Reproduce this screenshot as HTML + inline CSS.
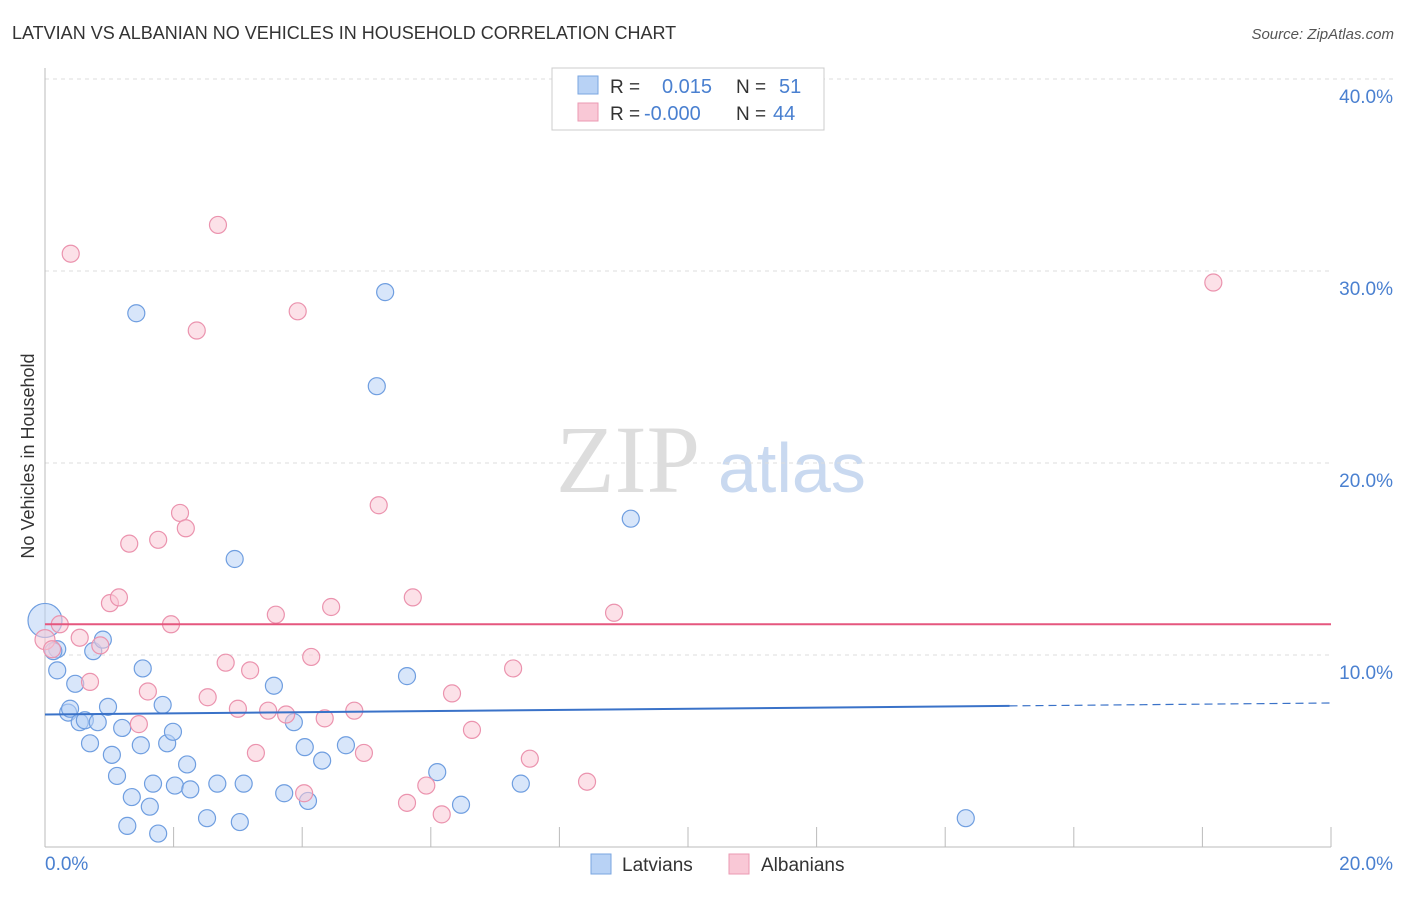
<!DOCTYPE html>
<html><head><meta charset="utf-8"><style>
body{margin:0;background:#fff;font-family:"Liberation Sans",sans-serif}
</style></head><body>
<svg width="1406" height="892" xmlns="http://www.w3.org/2000/svg" font-family="Liberation Sans, sans-serif">
<text x="12" y="39" font-size="18" fill="#333">LATVIAN VS ALBANIAN NO VEHICLES IN HOUSEHOLD CORRELATION CHART</text>
<text x="1394" y="39" font-size="15" fill="#555" font-style="italic" text-anchor="end">Source: ZipAtlas.com</text>
<text transform="translate(34,456) rotate(-90)" font-size="18" fill="#333" text-anchor="middle">No Vehicles in Household</text>
<text x="556" y="492" font-size="96" fill="#ddd" font-family="Liberation Serif, serif">ZIP</text>
<text x="718" y="492" font-size="70" fill="#c9d9f0">atlas</text>
<g id="grid"></g>
<g id="axes"></g>
<g id="marks"></g>
<g>
<rect x="552" y="68" width="272" height="62" fill="#fff" stroke="#ccc"/>
<rect x="578" y="76" width="20" height="18" fill="#b8d2f5" stroke="#7aa6e0"/>
<rect x="578" y="103" width="20" height="18" fill="#f9c8d6" stroke="#eb9ab3"/>
<text x="610" y="93" font-size="19" fill="#333">R =</text><text x="662" y="93" font-size="20" fill="#4a80d0">0.015</text>
<text x="736" y="93" font-size="19" fill="#333">N =</text><text x="779" y="93" font-size="20" fill="#4a80d0">51</text>
<text x="610" y="120" font-size="19" fill="#333">R =</text><text x="644" y="120" font-size="20" fill="#4a80d0">-0.000</text>
<text x="736" y="120" font-size="19" fill="#333">N =</text><text x="773" y="120" font-size="20" fill="#4a80d0">44</text>
</g>
<g>
<rect x="591" y="854" width="20" height="20" fill="#b8d2f5" stroke="#7aa6e0"/>
<text x="622" y="871" font-size="19" fill="#333">Latvians</text>
<rect x="729" y="854" width="20" height="20" fill="#f9c8d6" stroke="#eb9ab3"/>
<text x="761" y="871" font-size="19" fill="#333">Albanians</text>
</g>
</svg>
<script>
const xTickLabels=["0.0%","20.0%"];
const yTicks=[10,20,30,40];
const latX=[0,0.19,0.19,0.47,0.36,0.39,0.54,0.62,0.7,0.75,0.9,0.82,0.98,1.04,1.12,1.2,1.28,1.35,1.42,1.49,1.52,1.63,1.68,1.76,1.83,1.9,1.99,2.02,2.21,2.26,2.52,2.68,2.95,3.03,3.09,3.56,3.72,3.87,4.04,4.09,4.31,4.68,5.16,5.29,5.63,6.1,6.47,7.4,9.11,14.32,0.13];
const latY=[11.8,10.3,9.2,8.5,7.0,7.2,6.5,6.6,5.4,10.2,10.8,6.5,7.3,4.8,3.7,6.2,1.1,2.6,27.8,5.3,9.3,2.1,3.3,0.7,7.4,5.4,6.0,3.2,4.3,3.0,1.5,3.3,15.0,1.3,3.3,8.4,2.8,6.5,5.2,2.4,4.5,5.3,24.0,28.9,8.9,3.9,2.2,3.3,17.1,1.5,10.2];
const albX=[0,0.11,0.23,0.4,0.54,0.7,0.86,1.01,1.15,1.31,1.46,1.6,1.76,1.96,2.1,2.19,2.36,2.53,2.69,2.81,3.0,3.19,3.28,3.47,3.59,3.75,3.93,4.03,4.14,4.35,4.45,4.81,4.96,5.19,5.63,5.72,5.93,6.17,6.33,6.64,7.28,7.54,8.43,8.85,18.17];
const albY=[10.8,10.3,11.6,30.9,10.9,8.6,10.5,12.7,13.0,15.8,6.4,8.1,16.0,11.6,17.4,16.6,26.9,7.8,32.4,9.6,7.2,9.2,4.9,7.1,12.1,6.9,27.9,2.8,9.9,6.7,12.5,7.1,4.9,17.8,2.3,13.0,3.2,1.7,8.0,6.1,9.3,4.6,3.4,12.2,29.4];
const latTrend=[6.9,7.5], albTrend=[11.6,11.6];
const NS="http://www.w3.org/2000/svg";
const X=v=>45+v*64.3, Y=v=>847-v*19.2;
function el(t,a,p){const e=document.createElementNS(NS,t);for(const k in a)e.setAttribute(k,a[k]);document.getElementById(p).appendChild(e);return e;}
yTicks.forEach(t=>{
 const g=el('line',{x1:45,x2:t==40?1394:1331,y1:Y(t),y2:Y(t),stroke:'#ddd','stroke-dasharray':'4,4'},'grid');
 
 
 const l=el('text',{x:1393,y:Y(t)+24,'font-size':19,fill:'#4a80d0','text-anchor':'end'},'axes');l.textContent=t.toFixed(1)+'%';
 
 
});
const ax=el('line',{x1:45,x2:45,y1:68,y2:847,stroke:'#bbb'},'axes');


const bx=el('line',{x1:45,x2:1331,y1:847,y2:847,stroke:'#bbb'},'axes');


for(let i=0;i<=10;i++){const t=el('line',{x1:X(i*2),x2:X(i*2),y1:827,y2:847,stroke:'#bbb'},'axes');
 
 }
[[0,'start',45],[20,'end',1393]].forEach((d,i)=>{const t=el('text',{x:d[2],y:870,'font-size':19,fill:'#4a80d0','text-anchor':d[1]},'axes');t.textContent=xTickLabels[i];
 
 });
function pts(xs,ys,f,s,name,r0){xs.forEach((x,i)=>{const c=el('circle',{cx:X(x),cy:Y(ys[i]),r:i==0?r0:8.5,fill:f,'fill-opacity':0.55,stroke:s,'stroke-width':1.2},'marks');
 
 });}
pts(latX,latY,'#b8d2f5','#6f9ee0','latvian-point',17);
pts(albX,albY,'#f9c8d6','#eb93ae','albanian-point',10);
const xe=15;
const l1=el('line',{x1:X(0),x2:X(xe),y1:Y(latTrend[0]),y2:Y(latTrend[0]+(latTrend[1]-latTrend[0])*xe/20),stroke:'#3a72c8','stroke-width':2},'marks');


const l2=el('line',{x1:X(xe),x2:X(20),y1:Y(latTrend[0]+(latTrend[1]-latTrend[0])*xe/20),y2:Y(latTrend[1]),stroke:'#3a72c8','stroke-width':1.2,'stroke-dasharray':'8,5'},'marks');


const l3=el('line',{x1:X(0),x2:X(20),y1:Y(albTrend[0]),y2:Y(albTrend[1]),stroke:'#e5577e','stroke-width':2},'marks');


</script>
</body></html>
